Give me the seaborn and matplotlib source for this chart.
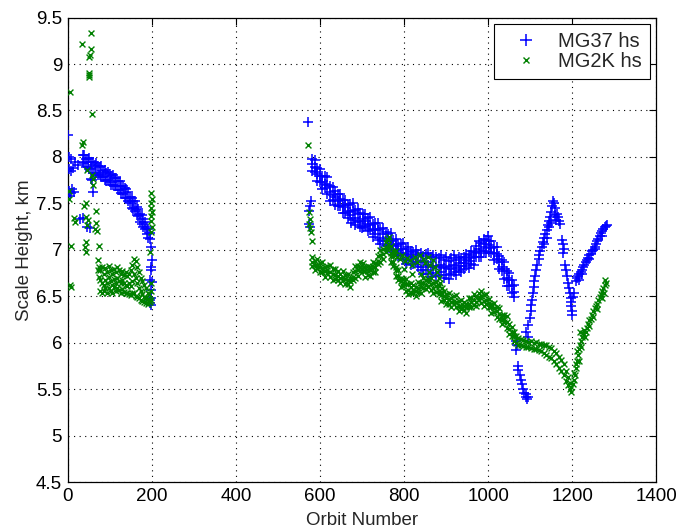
import matplotlib
matplotlib.use("Agg")
import matplotlib.pyplot as plt
from matplotlib.lines import Line2D
import seaborn as sns

# ---------------------------------------------------------------- MG37 hs
mg37_orbit_early = [2, 4, 9, 3, 7, 12, 18, 24, 4, 8, 11, 14, 6, 30, 37, 46, 53, 61, 55, 59]
mg37_hs_early = [8.24, 8.00, 7.98, 7.87, 7.85, 7.88, 7.94, 7.91, 7.63, 7.61, 7.65, 7.62, 7.58,
                 7.33, 7.34, 7.25, 7.23, 7.62, 7.76, 7.75]

mg37_orbit_band1 = [36, 40, 44, 48, 52, 56, 60, 64, 68, 72, 76, 80, 84, 88, 92, 96, 100, 104,
                    108, 112, 116, 120, 124, 128, 132, 136, 140, 144, 148, 152, 156, 160, 164,
                    168, 172, 176, 180, 184, 188, 192, 196]
mg37_hs_band1_hi = [8.02, 8.02, 7.98, 7.98, 7.99, 7.95, 7.94, 7.91, 7.93, 7.90, 7.89, 7.90, 7.85,
                    7.86, 7.83, 7.84, 7.82, 7.79, 7.81, 7.77, 7.77, 7.74, 7.74, 7.69, 7.69, 7.66,
                    7.65, 7.62, 7.57, 7.56, 7.53, 7.52, 7.46, 7.44, 7.38, 7.37, 7.33, 7.30, 7.24,
                    7.22, 7.18]
mg37_hs_band1_lo = [7.94, 7.93, 7.89, 7.89, 7.87, 7.88, 7.83, 7.83, 7.83, 7.80, 7.81, 7.78, 7.78,
                    7.75, 7.74, 7.75, 7.73, 7.70, 7.70, 7.69, 7.69, 7.64, 7.64, 7.61, 7.60, 7.56,
                    7.56, 7.52, 7.50, 7.45, 7.44, 7.42, 7.37, 7.36, 7.30, 7.28, 7.24, 7.22, 7.17,
                    7.13, 7.12]

mg37_orbit_200 = [199, 200, 198, 199, 197, 200, 198, 199, 197, 198, 196]
mg37_hs_200 = [7.03, 6.89, 6.82, 6.78, 6.68, 6.65, 6.57, 6.48, 6.43, 6.41, 6.46]

mg37_orbit_gap = [572, 578, 577, 574, 573, 576, 909, 999, 675, 700, 760]
mg37_hs_gap = [8.38, 7.52, 7.47, 7.42, 7.28, 7.25, 6.21, 7.15, 7.29, 7.23, 7.01]

mg37_orbit_band2 = [582, 588, 594, 600, 606, 612, 618, 624, 630, 636, 642, 648, 654, 660, 666,
                    672, 678, 684, 690, 696, 702, 708, 714, 720, 726, 732, 738, 744, 750, 756,
                    762, 768, 774, 780, 786, 792, 798, 804, 810, 816, 822, 828, 834, 840, 846,
                    852, 858, 864, 870, 876, 882, 888, 894, 900, 906, 912, 918, 924, 930, 936,
                    942, 948, 954, 960, 966, 972, 978, 984, 990, 996, 1002, 1008, 1014, 1020,
                    1026, 1032, 1038, 1044, 1050, 1056, 1062]
mg37_hs_band2_hi = [7.98, 7.97, 7.88, 7.87, 7.79, 7.79, 7.78, 7.69, 7.68, 7.63, 7.60, 7.60, 7.54,
                    7.54, 7.48, 7.49, 7.50, 7.43, 7.44, 7.40, 7.38, 7.39, 7.34, 7.35, 7.28, 7.29,
                    7.29, 7.22, 7.23, 7.19, 7.17, 7.18, 7.11, 7.12, 7.06, 7.06, 7.07, 7.01, 7.03,
                    6.99, 6.98, 7.00, 6.95, 6.97, 6.93, 6.95, 6.97, 6.92, 6.94, 6.92, 6.91, 6.94,
                    6.89, 6.92, 6.88, 6.91, 6.94, 6.89, 6.92, 6.91, 6.92, 6.96, 6.94, 6.99, 6.98,
                    7.04, 7.09, 7.07, 7.12, 7.11, 7.10, 7.09, 7.03, 7.03, 6.93, 6.89, 6.87, 6.77,
                    6.75, 6.68, 6.62]
mg37_hs_band2_mid = [7.92, 7.89, 7.82, 7.79, 7.73, 7.71, 7.70, 7.62, 7.59, 7.57, 7.52, 7.55,
                     7.46, 7.48, 7.42, 7.41, 7.42, 7.34, 7.38, 7.31, 7.33, 7.31, 7.28, 7.27,
                     7.22, 7.21, 7.21, 7.13, 7.17, 7.10, 7.12, 7.10, 7.05, 7.04, 7.00, 7.01,
                     6.97, 6.94, 6.95, 6.92, 6.90, 6.94, 6.87, 6.88, 6.82, 6.87, 6.84, 6.82,
                     6.83, 6.81, 6.83, 6.84, 6.80, 6.81, 6.79, 6.83, 6.84, 6.80, 6.86, 6.83,
                     6.86, 6.89, 6.88, 6.91, 6.92, 6.97, 7.01, 6.99, 7.06, 7.03, 7.05, 7.02,
                     6.97, 6.95, 6.87, 6.82, 6.79, 6.70, 6.67, 6.61, 6.55]
mg37_hs_band2_lo = [7.85, 7.84, 7.74, 7.73, 7.65, 7.67, 7.60, 7.53, 7.54, 7.48, 7.47, 7.47, 7.40,
                    7.40, 7.34, 7.37, 7.32, 7.27, 7.30, 7.25, 7.25, 7.26, 7.20, 7.21, 7.14, 7.17,
                    7.11, 7.06, 7.09, 7.04, 7.04, 7.05, 6.98, 6.99, 6.93, 6.95, 6.90, 6.85, 6.89,
                    6.84, 6.85, 6.87, 6.81, 6.78, 6.74, 6.78, 6.74, 6.71, 6.75, 6.72, 6.73, 6.76,
                    6.70, 6.73, 6.69, 6.74, 6.76, 6.73, 6.78, 6.76, 6.79, 6.83, 6.80, 6.85, 6.84,
                    6.92, 6.92, 6.92, 6.99, 6.97, 6.98, 6.97, 6.89, 6.90, 6.79, 6.77, 6.69, 6.61,
                    6.61, 6.53, 6.49]

mg37_orbit_late = [1066, 1068, 1067, 1070, 1072, 1075, 1077, 1080, 1083, 1086, 1089, 1092, 1094,
                   1090,
                   1091, 1094, 1096, 1099, 1101, 1103, 1105, 1107, 1108, 1110, 1112, 1115, 1117,
                   1120, 1122, 1124, 1127, 1130, 1133, 1136, 1139, 1142, 1145, 1148, 1150, 1152,
                   1154, 1157, 1160, 1163, 1166, 1169, 1172, 1145, 1150, 1140, 1134, 1158, 1162,
                   1176, 1178, 1180, 1179, 1184, 1186, 1187, 1190, 1192, 1194, 1196, 1197, 1198,
                   1200, 1199, 1202, 1205,
                   1208, 1211, 1214, 1217, 1220, 1223, 1226, 1229, 1232, 1235, 1238, 1241, 1244,
                   1247, 1250, 1253, 1256, 1259, 1262, 1265, 1268, 1271, 1274, 1277, 1280, 1283,
                   1215, 1224, 1240, 1255, 1270]
mg37_hs_late = [6.02, 5.98, 5.92, 5.75, 5.71, 5.65, 5.60, 5.55, 5.50, 5.46, 5.42, 5.39, 5.41,
                5.45,
                6.12, 6.06, 6.19, 6.27, 6.34, 6.41, 6.46, 6.54, 6.60, 6.66, 6.72, 6.78, 6.84,
                6.90, 6.94, 6.99, 7.03, 7.08, 7.13, 7.17, 7.21, 7.27, 7.31, 7.35, 7.41, 7.47,
                7.53, 7.50, 7.45, 7.39, 7.35, 7.31, 7.28, 7.24, 7.29, 7.13, 7.06, 7.37, 7.32,
                7.11, 7.06, 7.01, 6.97, 6.84, 6.78, 6.72, 6.64, 6.59, 6.53, 6.48, 6.44, 6.39,
                6.34, 6.30, 6.49, 6.54,
                6.66, 6.70, 6.72, 6.74, 6.76, 6.78, 6.81, 6.84, 6.87, 6.89, 6.91, 6.94, 6.96,
                6.99, 7.00, 7.03, 7.06, 7.09, 7.12, 7.15, 7.18, 7.20, 7.22, 7.24, 7.26, 7.27,
                6.68, 6.74, 6.90, 7.01, 7.15]

# ---------------------------------------------------------------- MG2K hs
mg2k_orbit_early = [5, 3, 4, 8, 6, 9, 15, 17, 35, 56, 55, 54, 52, 51, 52, 50, 58, 35, 36, 47,
                    58, 60, 39, 44, 44, 48, 47, 44, 44, 42, 67, 67, 69, 66, 75, 72, 74, 73, 75, 60]
mg2k_hs_early = [8.70, 7.63, 7.55, 7.04, 6.62, 6.60, 7.34, 7.30, 9.22, 9.33, 9.16, 9.10, 9.08,
                 8.90, 8.86, 8.88, 8.46, 8.13, 8.16, 7.86, 7.80, 7.76, 7.47, 7.50, 7.35, 7.32,
                 7.27, 7.08, 6.98, 7.03, 7.42, 7.29, 7.20, 7.22, 7.04, 6.89, 6.82, 6.78, 6.71,
                 7.70]

mg2k_orbit_band1 = [78, 82, 86, 90, 94, 98, 102, 106, 110, 114, 118, 122, 126, 130, 134, 138,
                    142, 146, 150, 154, 158, 162, 166, 170, 174, 178, 182, 186, 190, 194]
mg2k_hs_band1_hi = [6.78, 6.82, 6.74, 6.80, 6.76, 6.83, 6.78, 6.74, 6.79, 6.76, 6.81, 6.78, 6.74,
                    6.77, 6.73, 6.76, 6.72, 6.74, 6.78, 6.84, 6.90, 6.88, 6.82, 6.76, 6.70, 6.66,
                    6.62, 6.59, 6.54, 6.52]
mg2k_hs_band1_mid = [6.67, 6.64, 6.62, 6.68, 6.64, 6.71, 6.66, 6.62, 6.69, 6.64, 6.70, 6.66,
                     6.64, 6.67, 6.64, 6.62, 6.61, 6.64, 6.61, 6.66, 6.74, 6.70, 6.64, 6.59,
                     6.56, 6.52, 6.49, 6.48, 6.47, 6.46]
mg2k_hs_band1_lo = [6.56, 6.54, 6.56, 6.59, 6.54, 6.59, 6.56, 6.54, 6.60, 6.56, 6.59, 6.57, 6.54,
                    6.58, 6.55, 6.53, 6.54, 6.52, 6.51, 6.53, 6.54, 6.50, 6.49, 6.48, 6.46, 6.45,
                    6.44, 6.43, 6.42, 6.44]

mg2k_orbit_200 = [199, 200, 198, 199, 200, 198, 199, 200, 198, 197, 199, 198, 196, 199]
mg2k_hs_200 = [7.61, 7.55, 7.50, 7.45, 7.41, 7.36, 7.31, 7.25, 7.19, 6.98, 6.64, 6.56, 6.44, 6.46]

mg2k_orbit_gap = [572, 575, 576, 574, 577, 578, 580]
mg2k_hs_gap = [8.13, 7.41, 7.33, 7.28, 7.23, 7.19, 7.10]

mg2k_orbit_band2 = mg37_orbit_band2
mg2k_hs_band2_hi = [6.92, 6.88, 6.90, 6.86, 6.87, 6.81, 6.83, 6.84, 6.79, 6.79, 6.77, 6.74, 6.77,
                    6.73, 6.74, 6.70, 6.76, 6.83, 6.83, 6.87, 6.86, 6.81, 6.83, 6.82, 6.87, 6.86,
                    6.93, 7.00, 7.01, 7.08, 7.11, 6.97, 6.93, 6.82, 6.78, 6.70, 6.69, 6.69, 6.63,
                    6.64, 6.62, 6.60, 6.65, 6.64, 6.70, 6.68, 6.69, 6.70, 6.64, 6.65, 6.61, 6.55,
                    6.56, 6.52, 6.53, 6.48, 6.50, 6.51, 6.45, 6.46, 6.44, 6.42, 6.48, 6.48, 6.52,
                    6.50, 6.54, 6.56, 6.51, 6.52, 6.47, 6.42, 6.43, 6.38, 6.37, 6.30, 6.30, 6.29,
                    6.20, 6.17, 6.12]
mg2k_hs_band2_mid = [6.87, 6.84, 6.84, 6.82, 6.80, 6.77, 6.78, 6.76, 6.74, 6.73, 6.72, 6.70,
                     6.71, 6.69, 6.68, 6.66, 6.71, 6.77, 6.78, 6.81, 6.82, 6.77, 6.77, 6.78,
                     6.81, 6.82, 6.88, 6.94, 6.95, 7.02, 7.06, 6.93, 6.87, 6.78, 6.72, 6.66,
                     6.64, 6.63, 6.57, 6.60, 6.57, 6.56, 6.59, 6.60, 6.64, 6.62, 6.66, 6.63,
                     6.59, 6.61, 6.56, 6.51, 6.50, 6.48, 6.47, 6.44, 6.45, 6.44, 6.40, 6.40,
                     6.39, 6.38, 6.42, 6.44, 6.46, 6.44, 6.49, 6.50, 6.45, 6.46, 6.43, 6.38,
                     6.37, 6.34, 6.31, 6.26, 6.25, 6.22, 6.15, 6.11, 6.07]
mg2k_hs_band2_lo = [6.83, 6.78, 6.80, 6.76, 6.76, 6.71, 6.75, 6.71, 6.68, 6.69, 6.68, 6.64, 6.67,
                    6.63, 6.63, 6.60, 6.68, 6.70, 6.72, 6.77, 6.77, 6.71, 6.73, 6.72, 6.76, 6.76,
                    6.85, 6.87, 6.90, 6.98, 7.02, 6.87, 6.83, 6.72, 6.67, 6.60, 6.61, 6.56, 6.52,
                    6.54, 6.53, 6.50, 6.55, 6.54, 6.59, 6.58, 6.61, 6.57, 6.53, 6.55, 6.52, 6.45,
                    6.46, 6.42, 6.42, 6.38, 6.42, 6.38, 6.34, 6.36, 6.35, 6.32, 6.38, 6.38, 6.41,
                    6.40, 6.46, 6.43, 6.40, 6.42, 6.38, 6.32, 6.33, 6.28, 6.26, 6.20, 6.22, 6.16,
                    6.09, 6.07, 6.02]

mg2k_orbit_branch = [770, 774, 778, 784, 790, 796, 802, 808, 814, 820, 826, 832, 838, 844, 850,
                     856, 862, 868, 874, 878, 882, 886, 890, 860, 840, 820, 800, 780, 765, 760]
mg2k_hs_branch = [7.04, 6.99, 6.94, 6.92, 6.90, 6.94, 6.88, 6.91, 6.89, 6.84, 6.92, 6.87, 6.94,
                  6.90, 6.86, 6.92, 6.84, 6.89, 6.82, 6.76, 6.70, 6.64, 6.59, 6.76, 6.74, 6.74,
                  6.79, 6.99, 7.14, 7.12]

mg2k_orbit_late = [1066, 1066, 1072, 1072, 1078, 1078, 1084, 1084, 1090, 1090, 1096, 1096, 1102,
                   1102, 1108, 1108, 1114, 1114, 1120, 1120, 1126, 1126, 1132, 1132, 1138, 1138,
                   1144, 1144, 1150, 1150, 1156, 1156, 1162, 1162, 1168, 1168, 1174, 1174, 1180,
                   1180, 1186, 1186, 1190, 1190, 1194, 1194, 1197, 1198, 1201, 1204, 1207, 1210,
                   1212, 1214, 1216, 1218, 1220, 1223, 1226, 1229, 1232, 1235, 1238, 1241, 1244,
                   1247, 1250, 1253, 1256, 1259, 1262, 1265, 1268, 1271, 1274, 1277, 1280, 1278,
                   1275, 1270, 1260, 1250, 1240, 1230, 1222, 1215, 1212, 1218, 1210, 1205]
mg2k_hs_late = [6.07, 6.00, 6.05, 5.98, 6.04, 5.97, 6.03, 5.96, 6.02, 5.95, 6.01, 5.95, 6.02,
                5.94, 6.00, 5.93, 6.01, 5.93, 5.99, 5.92, 5.99, 5.91, 5.98, 5.89, 5.97, 5.87,
                5.95, 5.85, 5.94, 5.83, 5.91, 5.80, 5.89, 5.77, 5.85, 5.73, 5.81, 5.69, 5.77,
                5.65, 5.69, 5.59, 5.63, 5.54, 5.57, 5.50, 5.52, 5.47, 5.55, 5.60, 5.65, 5.73,
                5.80, 5.87, 5.93, 5.98, 6.02, 6.06, 6.10, 6.14, 6.12, 6.16, 6.20, 6.24, 6.26,
                6.30, 6.34, 6.37, 6.40, 6.42, 6.46, 6.49, 6.52, 6.56, 6.59, 6.62, 6.64, 6.68,
                6.54, 6.48, 6.36, 6.28, 6.18, 6.06, 5.95, 5.80, 5.91, 6.11, 5.77, 5.67]

x_ticks = [0, 200, 400, 600, 800, 1000, 1200, 1400]
y_ticks = [4.5, 5, 5.5, 6, 6.5, 7, 7.5, 8, 8.5, 9, 9.5]
y_tick_labels = ["4.5", "5", "5.5", "6", "6.5", "7", "7.5", "8", "8.5", "9", "9.5"]

series_labels = ["MG37 hs", "MG2K hs"]
BLUE = "#0000ff"
GREEN = "#008000"

# ---------------------------------------------------------------- assemble
mg37_orbit = (mg37_orbit_early + mg37_orbit_band1 * 2 + mg37_orbit_200
              + mg37_orbit_gap + mg37_orbit_band2 * 3 + mg37_orbit_late)
mg37_hs = (mg37_hs_early + mg37_hs_band1_hi + mg37_hs_band1_lo + mg37_hs_200
           + mg37_hs_gap + mg37_hs_band2_hi + mg37_hs_band2_mid + mg37_hs_band2_lo
           + mg37_hs_late)

mg2k_orbit = (mg2k_orbit_early + mg2k_orbit_band1 * 3 + mg2k_orbit_200 + mg2k_orbit_gap
              + mg2k_orbit_band2 * 3 + mg2k_orbit_branch + mg2k_orbit_late)
mg2k_hs = (mg2k_hs_early + mg2k_hs_band1_hi + mg2k_hs_band1_mid + mg2k_hs_band1_lo
           + mg2k_hs_200 + mg2k_hs_gap + mg2k_hs_band2_hi + mg2k_hs_band2_mid
           + mg2k_hs_band2_lo + mg2k_hs_branch + mg2k_hs_late)

# ---------------------------------------------------------------- figure
sns.set_theme(style="white")
plt.rcParams["font.family"] = ["Liberation Sans", "DejaVu Sans"]
plt.rcParams["font.size"] = 13.5

fig = plt.figure(figsize=(6.79, 5.29), dpi=100)
ax = fig.add_axes([0.0996, 0.0888, 0.867, 0.878])

sns.scatterplot(x=mg37_orbit, y=mg37_hs, marker="+", color=BLUE, s=48, linewidth=1.1,
                ax=ax, legend=False, zorder=3)
sns.scatterplot(x=mg2k_orbit, y=mg2k_hs, marker="x", color=GREEN, s=18, linewidth=1.0,
                ax=ax, legend=False, zorder=4)

ax.set_xlim(0, 1400)
ax.set_ylim(4.5, 9.5)
ax.set_xticks(x_ticks)
ax.set_xticklabels([str(t) for t in x_ticks])
ax.set_yticks(y_ticks)
ax.set_yticklabels(y_tick_labels)

ax.grid(True, color="black", linestyle=(0, (1, 4)), linewidth=0.8)
ax.set_axisbelow(True)
for side in ax.spines.values():
    side.set_visible(True)
    side.set_color("black")
    side.set_linewidth(0.9)
ax.tick_params(direction="in", top=True, right=True, length=5, width=0.8,
               labelsize=13.5, colors="black", pad=4)

ax.set_xlabel("Orbit Number", fontsize=13.5, labelpad=5)
ax.set_ylabel("Scale Height, km", fontsize=13.5, labelpad=2)

handles = [
    Line2D([], [], marker="+", color=BLUE, linestyle="none", markersize=8, markeredgewidth=1.1),
    Line2D([], [], marker="x", color=GREEN, linestyle="none", markersize=4.5, markeredgewidth=1.0),
]
leg = ax.legend(handles, series_labels, loc="upper right", fontsize=14.5, frameon=True,
                fancybox=False, framealpha=1, edgecolor="black", borderpad=0.4,
                handlelength=2.4, handletextpad=0.4, labelspacing=0.05, borderaxespad=0.3)
leg.get_frame().set_linewidth(0.8)

fig.savefig("out.png", dpi=100)
